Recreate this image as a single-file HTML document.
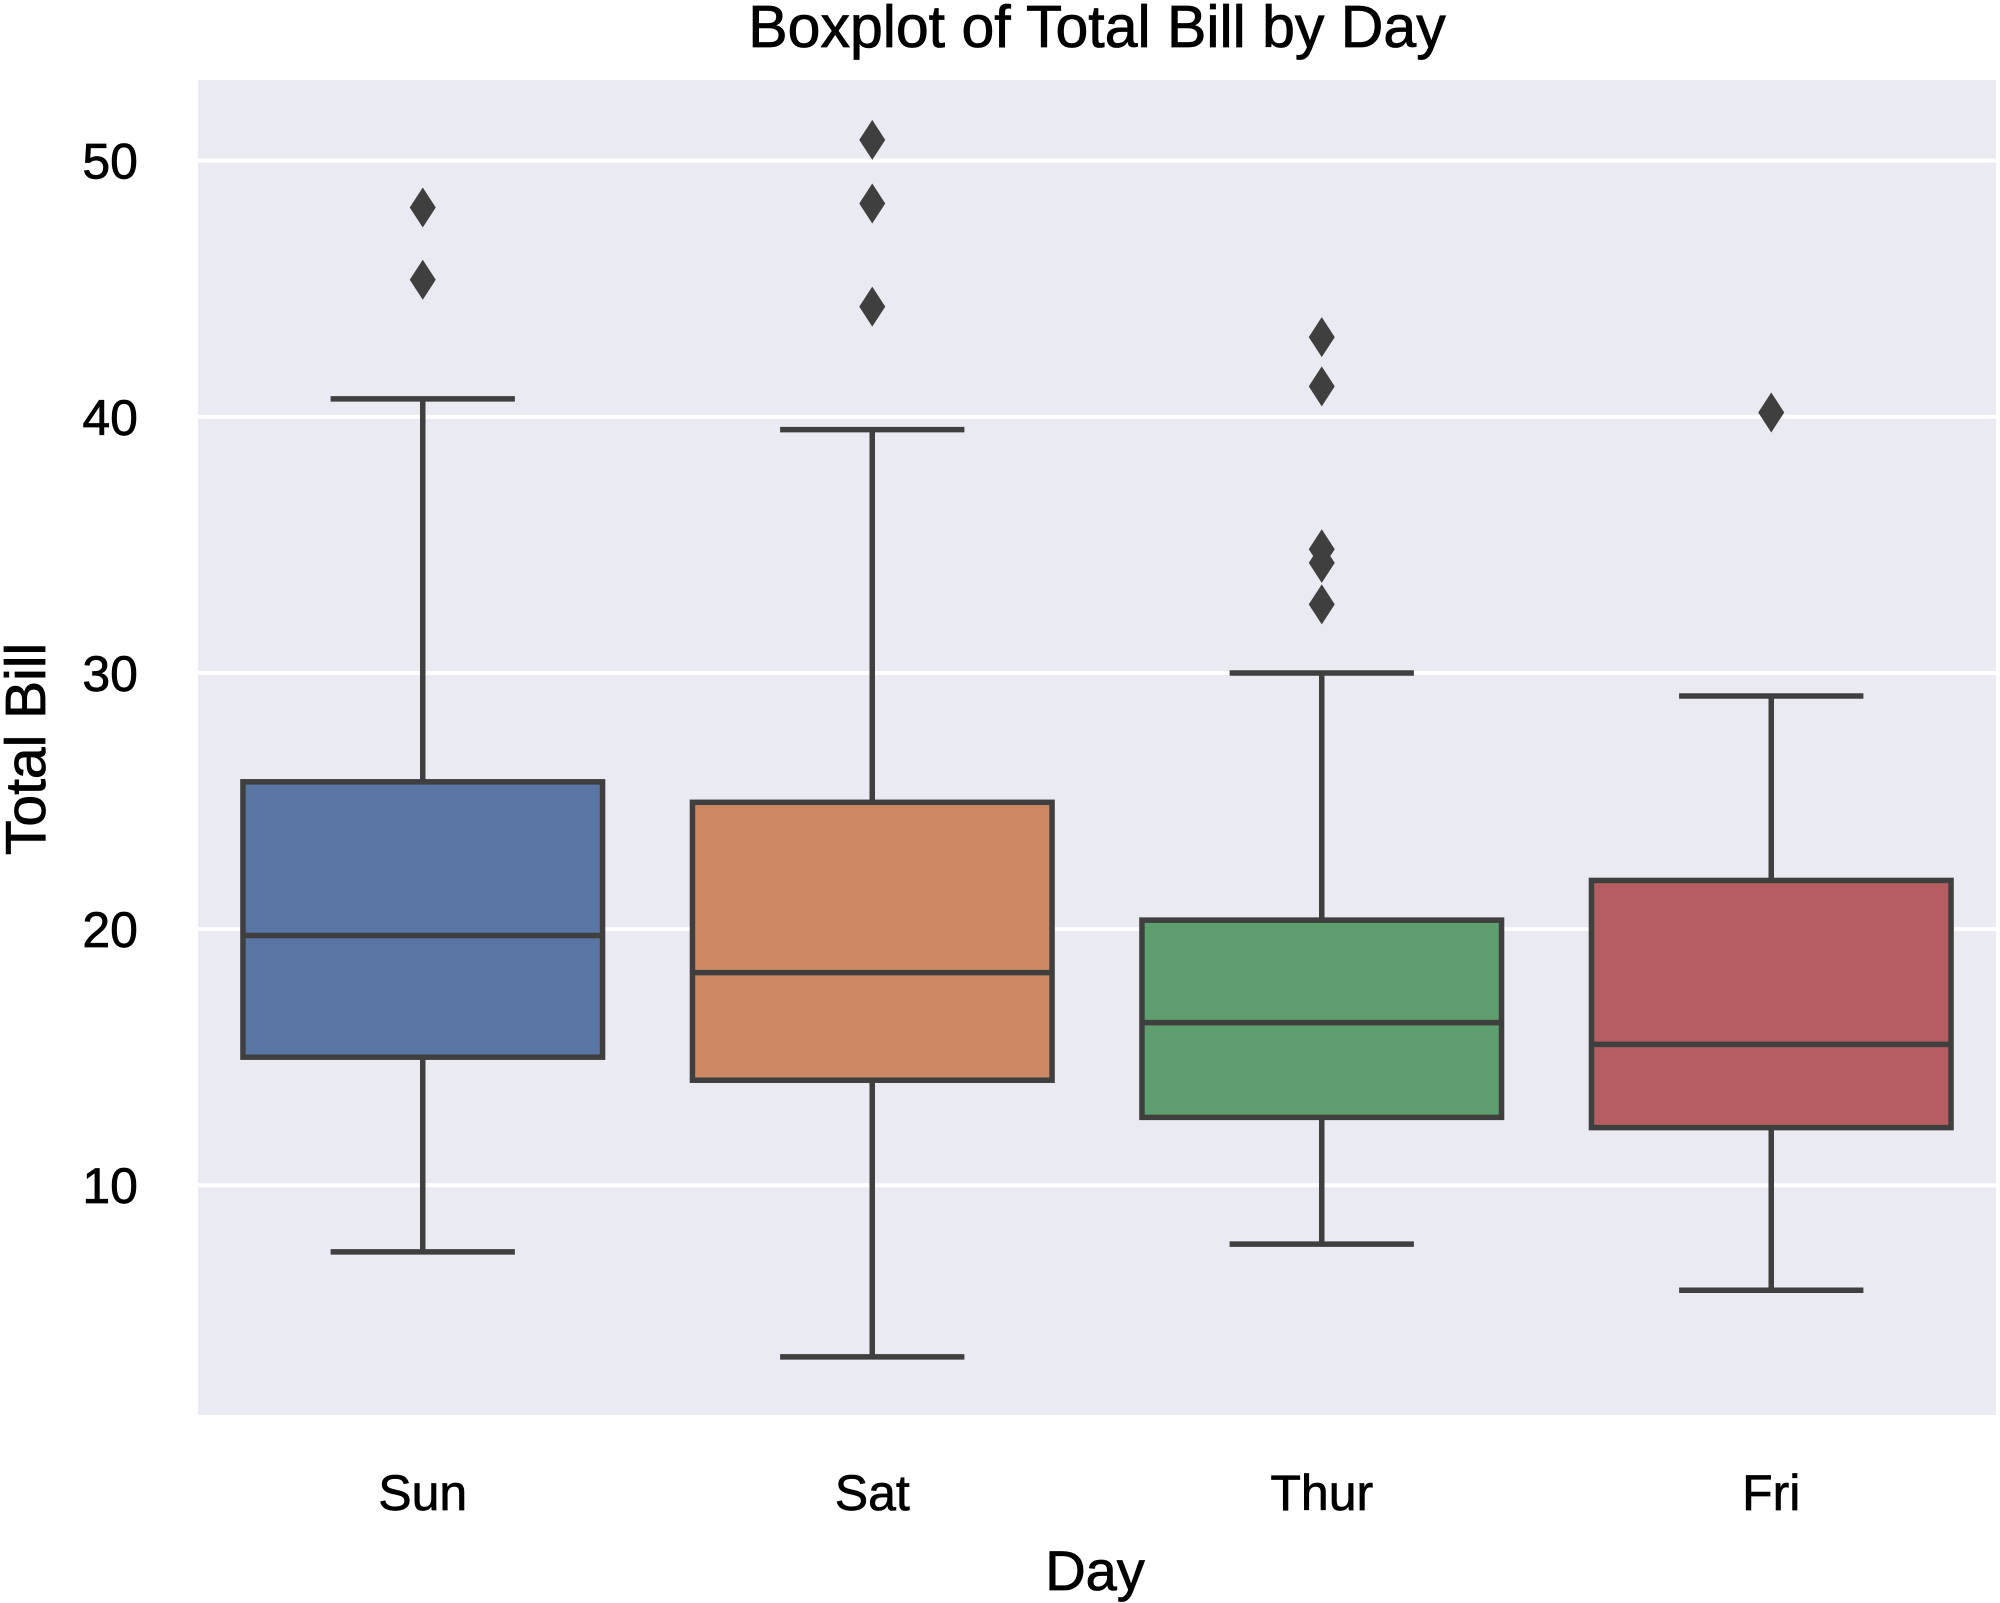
<!DOCTYPE html>
<html><head><meta charset="utf-8"><style>
html,body{margin:0;padding:0;background:#fff;}
svg{display:block;font-family:"Liberation Sans",Arial,sans-serif;}
</style></head><body>
<svg id="chart" width="2000" height="1603" viewBox="0 0 2000 1603" xmlns="http://www.w3.org/2000/svg">
<rect x="198" y="80" width="1798" height="1335" fill="#eaeaf2"/>
<g id="grid"></g>
<g id="boxes"></g>
<g id="yticks"></g>
<g id="xticks"></g>
<text x="1097" y="47" font-size="59" text-anchor="middle" fill="#000" stroke="#000" stroke-width="0.8">Boxplot of Total Bill by Day</text>
<text x="1095" y="1590" font-size="56" text-anchor="middle" fill="#000" stroke="#000" stroke-width="0.8">Day</text>
<text transform="translate(45,749) rotate(-90)" font-size="57" text-anchor="middle" fill="#000" stroke="#000" stroke-width="0.8">Total Bill</text>
</svg>
<script>
const categories = ["Sun","Sat","Thur","Fri"];
const boxColors = ["#5975a4","#cc8963","#5f9e6e","#b55d60"];
const whiskerLow = [7.4, 3.3, 7.7, 5.9];
const q1Values = [15.0, 14.1, 12.65, 12.25];
const medianValues = [19.75, 18.3, 16.35, 15.5];
const q3Values = [25.75, 24.95, 20.35, 21.9];
const whiskerHigh = [40.7, 39.5, 30.0, 29.1];
const outlierSun = [48.17, 45.35];
const outlierSat = [50.81, 48.33, 44.3];
const outlierThur = [43.11, 41.19, 34.83, 34.3, 32.68];
const outlierFri = [40.17];
const yTicks = [10, 20, 30, 40, 50];

const NS = "http://www.w3.org/2000/svg";
const plotL = 198, plotR = 1996, plotT = 80, plotB = 1415;
const yMin = 1.03, yMax = 53.15;
function yScale(v){ return plotB - (v - yMin) / (yMax - yMin) * (plotB - plotT); }
const band = (plotR - plotL) / categories.length;
function xScale(i){ return plotL + band * (i + 0.5); }
function mk(tag, attrs, parent){
  const e = document.createElementNS(NS, tag);
  for (const k in attrs) e.setAttribute(k, attrs[k]);
  parent.appendChild(e);
  return e;
}
const grid = document.getElementById('grid');
const yt = document.getElementById('yticks');
yTicks.forEach(t => {
  const y = yScale(t);
  const l = mk('line', {x1: plotL, x2: plotR, y1: y, y2: y, stroke: '#fff', 'stroke-width': 4}, grid);
  
  
  const tx = mk('text', {x: 138, y: y + 18, 'font-size': 50, 'text-anchor': 'end', fill: '#000', stroke: '#000', 'stroke-width': 0.7}, yt);
  tx.textContent = t;
  
  
});
const xt = document.getElementById('xticks');
const boxes = document.getElementById('boxes');
const outliers = [outlierSun, outlierSat, outlierThur, outlierFri];
const lc = '#3f3f3f', lw = 5.5;
categories.forEach((c, i) => {
  const cx = xScale(i);
  const bw = band * 0.8, cw = band * 0.41;
  const g = mk('g', {}, boxes);
  
  
  const w1 = mk('line', {x1: cx, x2: cx, y1: yScale(whiskerLow[i]), y2: yScale(q1Values[i]), stroke: lc, 'stroke-width': lw}, g);
  
  
  const w2 = mk('line', {x1: cx, x2: cx, y1: yScale(q3Values[i]), y2: yScale(whiskerHigh[i]), stroke: lc, 'stroke-width': lw}, g);
  
  
  const c1 = mk('line', {x1: cx - cw/2, x2: cx + cw/2, y1: yScale(whiskerLow[i]), y2: yScale(whiskerLow[i]), stroke: lc, 'stroke-width': lw}, g);
  
  
  const c2 = mk('line', {x1: cx - cw/2, x2: cx + cw/2, y1: yScale(whiskerHigh[i]), y2: yScale(whiskerHigh[i]), stroke: lc, 'stroke-width': lw}, g);
  
  
  const r = mk('rect', {x: cx - bw/2, y: yScale(q3Values[i]), width: bw, height: yScale(q1Values[i]) - yScale(q3Values[i]), fill: boxColors[i], stroke: lc, 'stroke-width': lw}, g);
  
  
  const m = mk('line', {x1: cx - bw/2, x2: cx + bw/2, y1: yScale(medianValues[i]), y2: yScale(medianValues[i]), stroke: lc, 'stroke-width': lw}, g);
  
  
  outliers[i].forEach(v => {
    const y = yScale(v);
    const p = mk('polygon', {points: `${cx},${y-20} ${cx+13},${y} ${cx},${y+20} ${cx-13},${y}`, fill: lc}, g);
    
    
  });
  const tx = mk('text', {x: cx, y: 1510, 'font-size': 50, 'text-anchor': 'middle', fill: '#000', stroke: '#000', 'stroke-width': 0.7}, xt);
  tx.textContent = c;
  
  
});
</script>
</body></html>
